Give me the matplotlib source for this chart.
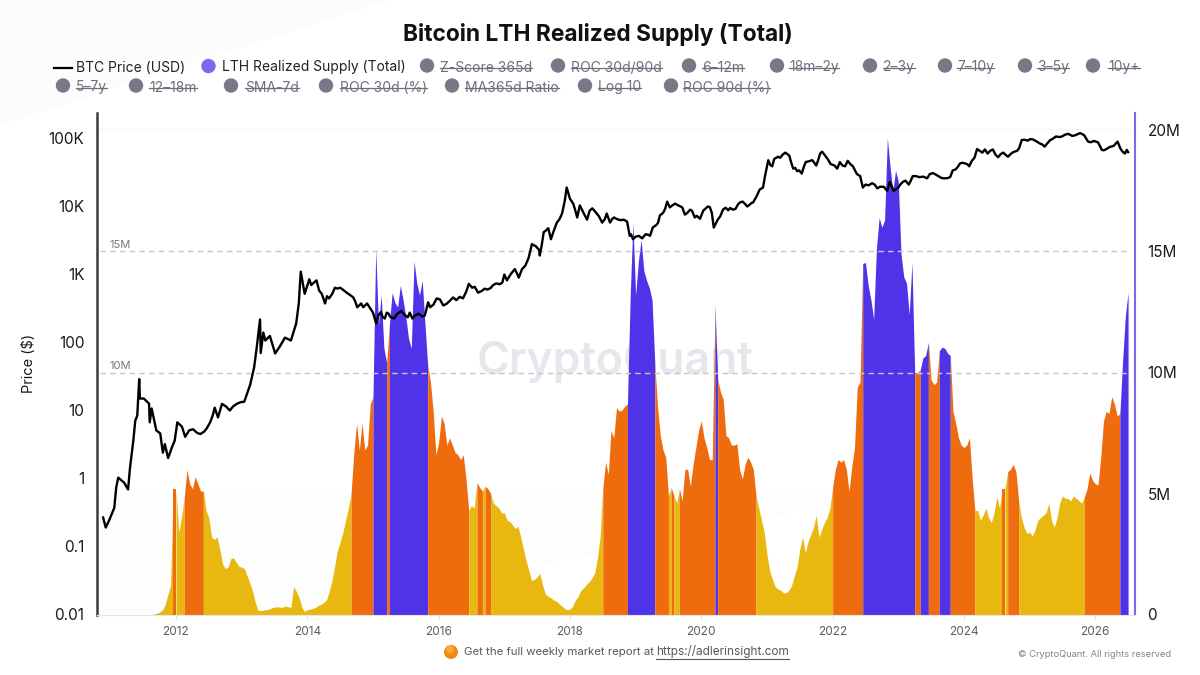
import numpy as np
import matplotlib
matplotlib.use("Agg")
import matplotlib.pyplot as plt
from matplotlib.patches import Circle, Polygon

plt.rcParams["font.family"] = ["Inter", "DejaVu Sans"]

# BTC price
price_years = [
    2010.89, 2010.93, 2010.98, 2011.06, 2011.09, 2011.12, 2011.21, 2011.27, 2011.30, 2011.35, 2011.38, 2011.41,
    2011.44, 2011.45, 2011.51, 2011.59, 2011.60, 2011.63, 2011.70, 2011.76, 2011.80, 2011.83, 2011.88, 2011.94,
    2011.98, 2012.02, 2012.09, 2012.14, 2012.20, 2012.32, 2012.43, 2012.52, 2012.59, 2012.64, 2012.70, 2012.82,
    2012.93, 2013.04, 2013.13, 2013.19, 2013.23, 2013.28, 2013.29, 2013.33, 2013.36, 2013.43, 2013.51, 2013.58,
    2013.66, 2013.75, 2013.83, 2013.87, 2013.90, 2013.96, 2014.03, 2014.10, 2014.18, 2014.27, 2014.33, 2014.42,
    2014.50, 2014.60, 2014.70, 2014.76, 2014.82, 2014.85, 2014.91, 2015.00, 2015.05, 2015.08, 2015.15, 2015.21,
    2015.26, 2015.37, 2015.49, 2015.56, 2015.64, 2015.79, 2015.84, 2015.87, 2015.97, 2016.07, 2016.17, 2016.37,
    2016.46, 2016.51, 2016.60, 2016.74, 2016.83, 2016.97, 2017.00, 2017.04, 2017.16, 2017.22, 2017.32, 2017.42,
    2017.53, 2017.54, 2017.60, 2017.67, 2017.71, 2017.80, 2017.88, 2017.92, 2017.95, 2018.00, 2018.05, 2018.11,
    2018.15, 2018.26, 2018.34, 2018.49, 2018.56, 2018.61, 2018.67, 2018.87, 2018.91, 2018.96, 2019.10, 2019.22,
    2019.26, 2019.37, 2019.42, 2019.48, 2019.52, 2019.60, 2019.71, 2019.75, 2019.83, 2019.90, 2019.98, 2020.10,
    2020.16, 2020.19, 2020.25, 2020.33, 2020.48, 2020.59, 2020.70, 2020.79, 2020.89, 2020.94, 2021.02, 2021.08,
    2021.14, 2021.20, 2021.28, 2021.34, 2021.40, 2021.46, 2021.53, 2021.59, 2021.69, 2021.75, 2021.84, 2021.93,
    2022.07, 2022.11, 2022.19, 2022.23, 2022.34, 2022.42, 2022.46, 2022.60, 2022.68, 2022.83, 2022.87, 2023.00,
    2023.07, 2023.16, 2023.22, 2023.44, 2023.48, 2023.61, 2023.68, 2023.79, 2023.83, 2023.94, 2024.05, 2024.12,
    2024.20, 2024.28, 2024.40, 2024.52, 2024.60, 2024.67, 2024.81, 2024.88, 2025.01, 2025.16, 2025.23, 2025.36,
    2025.54, 2025.65, 2025.77, 2025.89, 2026.04, 2026.10, 2026.22, 2026.34, 2026.45, 2026.50,
]
price_usd = [
    0.267, 0.19, 0.24, 0.37, 0.74, 1.03, 0.87, 0.69, 1.45, 3.6, 7.1, 8.4,
    29, 15, 15, 12.6, 6.7, 10.7, 5.1, 4.6, 2.4, 3.2, 2.0, 2.9,
    3.6, 6.7, 5.8, 4.1, 5.1, 4.7, 4.9, 6.7, 11, 7.9, 12.5, 10,
    12.6, 13.5, 24, 43, 85, 218, 70, 140, 107, 125, 69, 87,
    118, 107, 190, 375, 1100, 520, 850, 760, 580, 375, 445, 640,
    640, 540, 460, 330, 375, 330, 375, 275, 190, 250, 235, 275,
    240, 265, 250, 275, 250, 250, 390, 330, 445, 350, 410, 445,
    730, 640, 540, 600, 700, 760, 1000, 820, 1200, 900, 1350, 2800,
    2300, 1900, 4200, 4800, 3300, 5800, 7900, 12000, 19000, 13000, 11000, 6900,
    10400, 6400, 9400, 5800, 7900, 5800, 6900, 6000, 3700, 3300, 3400, 3700,
    4900, 7400, 8100, 11800, 9700, 11000, 9700, 7600, 9000, 6900, 6600, 10000,
    8100, 4900, 6400, 9000, 9000, 11500, 10000, 11500, 17800, 19000, 48000, 39000,
    52000, 52000, 62000, 56000, 36000, 33000, 30500, 45000, 48000, 40000, 64000, 49000,
    36000, 45000, 39000, 47000, 34000, 28000, 19000, 22000, 18500, 17000, 23000, 19000,
    23000, 21000, 28000, 26000, 30000, 28000, 26000, 27000, 34000, 43000, 42000, 47000,
    70000, 62000, 66000, 53000, 62000, 54000, 66000, 95000, 98000, 84000, 76000, 100000,
    114000, 109000, 120000, 90000, 88000, 68000, 75000, 90000, 60000, 63000,
]
# the smaller swings between the points above
swing_years = [
    2012.26, 2012.37, 2012.47, 2012.56, 2012.76, 2012.87, 2012.98,
    2014.06, 2014.14, 2014.22, 2014.30, 2014.38, 2014.46, 2014.55, 2014.65, 2014.73, 2014.79,
    2015.12, 2015.18, 2015.24, 2015.32, 2015.43, 2015.53, 2015.60, 2015.70, 2015.75,
    2015.92, 2016.02, 2016.12, 2016.22, 2016.27, 2016.32, 2016.42, 2016.55, 2016.66, 2016.70, 2016.79, 2016.88, 2016.93,
    2017.10, 2017.19, 2017.27, 2017.37, 2017.48, 2017.57, 2017.63, 2017.75, 2017.84,
    2018.08, 2018.20, 2018.30, 2018.38, 2018.44, 2018.53, 2018.64, 2018.72, 2018.77, 2018.82, 2018.93,
    2019.00, 2019.05, 2019.15, 2019.19, 2019.31, 2019.34, 2019.45, 2019.56, 2019.64, 2019.68, 2019.79, 2019.86, 2019.93,
    2020.03, 2020.07, 2020.13, 2020.29, 2020.37, 2020.41, 2020.44, 2020.52, 2020.56, 2020.63, 2020.67, 2020.74, 2020.76,
    2020.84, 2020.97, 2021.05, 2021.11, 2021.17, 2021.24, 2021.31, 2021.37, 2021.43, 2021.49, 2021.56, 2021.63, 2021.72,
    2021.78, 2021.81, 2021.88, 2021.97, 2022.03, 2022.15, 2022.27, 2022.31, 2022.37, 2022.50, 2022.55, 2022.64, 2022.72,
    2022.78, 2022.93, 2023.03, 2023.11, 2023.19, 2023.27, 2023.32, 2023.38, 2023.53, 2023.57, 2023.65, 2023.74, 2023.87,
    2023.90, 2023.98, 2024.08, 2024.16, 2024.24, 2024.32, 2024.36, 2024.44, 2024.48, 2024.56, 2024.63, 2024.71, 2024.75,
    2024.84, 2024.92, 2024.97, 2025.05, 2025.11, 2025.19, 2025.27, 2025.31, 2025.40, 2025.46, 2025.50, 2025.59, 2025.70,
    2025.73, 2025.83, 2025.93, 2025.98, 2026.07, 2026.13, 2026.17, 2026.28, 2026.38, 2026.41, 2026.48,
]
swing_usd = [
    5.3, 4.5, 5.5, 8.5, 11.5, 11.5, 13.2,
    700, 820, 520, 480, 520, 620, 590, 500, 400, 350,
    280, 225, 265, 225, 290, 235, 225, 265, 240,
    360, 430, 370, 460, 420, 470, 560, 660, 575, 620, 630, 740, 720,
    1020, 1050, 1200, 1750, 2600, 2700, 4400, 4300, 6500,
    8800, 8300, 8700, 8500, 7200, 6500, 6500, 6500, 6300, 6400, 3900,
    3600, 3700, 3900, 3850, 5300, 5700, 9300, 10400, 10500, 10000, 8100, 8600, 7300,
    8700, 9400, 9800, 7200, 9600, 8800, 9500, 9200, 10800, 11800, 10800, 10700, 11200,
    14000, 28000, 41000, 50000, 54000, 58000, 59000, 44000, 37000, 34000, 38000, 46000, 44000,
    48000, 60000, 57000, 42000, 40000, 40000, 42000, 39000, 30000, 21000, 20500, 21000, 19500,
    19500, 17000, 21000, 24000, 24000, 28000, 27000, 27500, 31000, 29500, 26500, 26000, 35000,
    37500, 44000, 39000, 52000, 66000, 69000, 60000, 69000, 58000, 59000, 58000, 59000, 63000,
    72000, 96000, 93000, 97000, 90000, 82000, 85000, 94000, 107000, 105000, 108000, 117000, 112000,
    116000, 112000, 88000, 92000, 78000, 67000, 70000, 78000, 72000, 65000, 68000,
]

# LTH realized supply in millions, two readings per month from 2011 on
supply_start = 2011.0
supply_per_year = 24
supply_m = [
    # 2011
    0, 0, 0, 0, 0, 0, 0, 0, 0, 0, 0, 0,
    0, 0, 0, 0, 0.02, 0.05, 0.1, 0.18, 0.4, 0.8, 1.2, 5.2,
    # 2012
    5.2, 3.4, 4.0, 4.8, 6.0, 5.4, 5.2, 5.7, 5.4, 5.1, 5.1, 4.3,
    4.0, 3.2, 3.1, 3.2, 2.7, 2.1, 1.9, 1.95, 2.3, 2.35, 2.15, 2.0,
    # 2013
    1.95, 1.9, 1.6, 1.3, 0.95, 0.5, 0.17, 0.16, 0.18, 0.2, 0.22, 0.28,
    0.3, 0.32, 0.3, 0.3, 0.35, 0.32, 0.3, 1.15, 0.95, 0.7, 0.3, 0.12,
    # 2014
    0.2, 0.22, 0.25, 0.3, 0.38, 0.42, 0.5, 0.6, 0.95, 1.4, 2.0, 2.65,
    3.0, 3.4, 3.9, 4.4, 5.0, 6.7, 7.9, 6.8, 7.9, 6.8, 7.0, 8.7,
    # 2015
    9.0, 15.1, 12.0, 13.2, 11.0, 10.4, 12.0, 13.3, 12.9, 12.7, 13.6, 13.0,
    12.3, 11.4, 11.0, 14.6, 13.7, 13.2, 13.8, 12.0, 10.3, 9.6, 8.4, 6.6,
    # 2016
    7.1, 8.2, 7.9, 7.0, 7.3, 7.0, 6.7, 6.6, 6.4, 6.6, 5.6, 4.3,
    4.5, 4.4, 5.45, 5.25, 5.1, 5.3, 5.2, 5.0, 4.6, 4.5, 4.4, 4.2,
    # 2017
    4.2, 3.9, 3.85, 3.7, 3.55, 3.65, 3.2, 2.7, 2.2, 1.8, 1.4, 1.45,
    1.55, 1.7, 1.2, 0.85, 0.75, 0.7, 0.6, 0.55, 0.45, 0.35, 0.25, 0.2,
    # 2018
    0.22, 0.35, 0.6, 0.75, 1.0, 1.1, 1.25, 1.35, 1.5, 1.7, 2.3, 3.2,
    5.2, 6.3, 5.8, 7.6, 7.3, 8.55, 8.4, 8.45, 8.6, 8.7, 13.1, 16.2,
    # 2019
    13.2, 14.6, 15.5, 14.2, 13.8, 13.5, 13.0, 10.4, 8.6, 7.4, 6.8, 6.5,
    4.9, 5.25, 4.9, 4.6, 5.2, 4.7, 6.0, 6.0, 5.3, 6.2, 6.9, 7.6,
    # 2020
    8.0, 7.3, 6.9, 6.4, 6.4, 12.8, 9.7, 9.2, 8.9, 7.4, 7.3, 7.0,
    7.0, 7.05, 6.0, 5.6, 6.2, 6.5, 6.3, 6.0, 4.9, 4.4, 3.9, 3.4,
    # 2021
    2.5, 1.8, 1.45, 1.15, 1.05, 1.0, 0.9, 0.9, 1.0, 1.2, 1.6, 1.95,
    2.7, 3.2, 2.55, 3.0, 3.3, 3.6, 4.1, 3.2, 3.5, 3.8, 4.0, 4.4,
    # 2022
    5.25, 6.0, 6.4, 6.3, 6.4, 6.0, 5.1, 6.1, 6.9, 9.4, 9.6, 14.5,
    14.55, 13.6, 13.0, 12.2, 15.1, 16.4, 16.0, 16.3, 19.7, 18.5, 17.5, 18.35,
    # 2023
    17.9, 14.9, 13.95, 13.7, 12.4, 14.55, 10.0, 10.0, 10.1, 10.6, 10.7, 11.25,
    9.7, 9.5, 9.6, 10.9, 11.05, 11.0, 10.8, 10.7, 8.4, 7.9, 7.3, 7.0,
    # 2024
    6.9, 7.0, 7.3, 5.65, 4.3, 4.3, 3.9, 4.1, 4.4, 4.0, 3.8, 4.2,
    4.85, 4.4, 5.2, 5.2, 5.9, 6.0, 6.2, 5.9, 4.7, 4.0, 3.6, 3.35,
    # 2025
    3.4, 3.25, 3.5, 3.9, 4.0, 4.1, 4.2, 4.6, 3.9, 3.6, 4.0, 4.6,
    4.9, 4.8, 4.8, 4.7, 4.9, 4.8, 4.7, 4.6, 4.85, 5.2, 5.85, 5.55,
    # 2026
    5.4, 5.35, 6.5, 8.0, 8.4, 8.3, 9.0, 8.7, 8.2, 8.3, 10.5, 12.35, 13.3,
]

# colour bands of the area: each starts at the given year and runs to the next one
band_starts = [
    2011.0, 2011.94, 2012.02, 2012.12, 2012.40, 2014.68, 2015.02, 2015.19, 2015.23, 2015.83,
    2016.45, 2016.58, 2016.68, 2016.72, 2016.81, 2018.49, 2018.87, 2019.30, 2019.48, 2019.53,
    2019.58, 2019.65, 2019.69, 2019.72, 2020.20, 2020.245, 2020.82, 2022.01, 2022.45, 2023.24,
    2023.35, 2023.47, 2023.62, 2023.80, 2024.15, 2024.60, 2024.645, 2024.66, 2024.84, 2025.85,
    2026.39,
]
band_names = [
    "low", "mid", "low", "mid", "low", "mid", "high", "mid", "high", "mid",
    "low", "mid", "low", "mid", "low", "mid", "high", "mid", "low", "mid",
    "low", "mid", "low", "mid", "high", "mid", "low", "mid", "high", "mid",
    "high", "mid", "high", "mid", "low", "mid", "low", "mid", "low", "mid",
    "high",
]
band_colors = {"low": "#e8b811", "mid": "#ee6c0e", "high": "#4f33e9"}

x_ticks = [2012, 2014, 2016, 2018, 2020, 2022, 2024, 2026]
price_ticks = [0.01, 0.1, 1, 10, 100, 1000, 10000, 100000]
price_labels = ["0.01", "0.1", "1", "10", "100", "1K", "10K", "100K"]
supply_ticks = [0, 5, 10, 15, 20]
supply_labels = ["0", "5M", "10M", "15M", "20M"]
guide_levels = [10, 15]
guide_labels = ["10M", "15M"]

row1 = [("Z-Score 365d", 427, 440), ("ROC 30d/90d", 558, 571), ("6–12m", 689, 702), ("18m–2y", 777, 789),
        ("2–3y", 870, 883), ("7–10y", 945, 957), ("3–5y", 1025, 1037), ("10y+", 1093, 1108)]
row2 = [("5–7y", 63, 76), ("12–18m", 136, 149), ("SMA-7d", 231, 245), ("ROC 30d (%)", 326, 340),
        ("MA365d Ratio", 452, 465), ("Log 10", 585, 598), ("ROC 90d (%)", 671, 683)]

W, H = 1200, 675
fig = plt.figure(figsize=(W / 100, H / 100), dpi=100, facecolor="white")

# very faint backdrop shapes
bg = fig.add_axes([0, 0, 1, 1], zorder=-2)
bg.set_xlim(0, W)
bg.set_ylim(H, 0)
bg.axis("off")
bg.add_patch(Polygon([(0, 0), (390, 0), (0, 125)], color="#fcfcfc", lw=0))
bg.add_patch(Polygon([(100, 493), (830, 493), (830, 505), (300, 615), (100, 615)], color="#fdfdfd", lw=0))
bg.plot([100, 1130], [129, 129], color="#f5f5f6", lw=1)
bg.text(615, 362, "CryptoQuant", fontsize=32, fontweight="semibold", color="#e6e7ed",
        ha="center", va="center")

# axes frame in figure pixels: x 97..1135, y 113..614.5
ax_price = fig.add_axes([97 / W, 1 - 614.5 / H, (1135 - 97) / W, (614.5 - 113) / H])
ax_supply = ax_price.twinx()
ax_price.set_zorder(ax_supply.get_zorder() + 1)
ax_price.patch.set_visible(False)
ax_supply.patch.set_visible(False)

supply = np.array(supply_m)
step = 1 / supply_per_year
supply_years = supply_start + np.arange(len(supply)) * step

# one filled run per stretch of the same colour
mids = supply_years[:-1] + step / 2
seg_band = np.searchsorted(band_starts, mids, side="right") - 1
seg_names = np.array(band_names)[seg_band]
run_start = 0
for i in range(1, len(seg_names) + 1):
    if i == len(seg_names) or seg_names[i] != seg_names[run_start]:
        ax_supply.fill_between(supply_years[run_start:i + 1], 0, supply[run_start:i + 1],
                               color=band_colors[seg_names[run_start]], linewidth=0, zorder=2)
        run_start = i

for level, label in zip(guide_levels, guide_labels):
    ax_supply.plot([2010.85, 2026.53], [level, level], color="#c6c6ce", lw=1, ls=(0, (4, 3)), zorder=3)
    ax_supply.text(2010.98, level + 0.05, label, fontsize=8, color="#77777f", ha="left", va="bottom", zorder=3)

all_years = np.array(price_years + swing_years)
all_usd = np.array(price_usd + swing_usd)
order = np.argsort(all_years)
ax_price.plot(all_years[order], all_usd[order], color="black", lw=1.7, solid_joinstyle="round", zorder=5)

ax_price.set_xlim(2010.797, 2026.605)
ax_price.set_yscale("log")
ax_price.set_ylim(0.01, 10 ** (501.5 / 68 - 2))
ax_supply.set_ylim(0, 501.5 / 121 * 5)

ax_price.set_xticks(x_ticks)
ax_price.set_xticklabels([str(y) for y in x_ticks], fontsize=8.5, color="#5b5b63")
ax_price.tick_params(axis="x", length=3, width=0.8, color="#dddddf", pad=5)
ax_price.set_yticks(price_ticks)
ax_price.set_yticklabels(price_labels, fontsize=11, color="#1a1a1a")
ax_price.minorticks_off()
ax_price.tick_params(axis="y", which="both", length=0, pad=9)
ax_price.set_ylabel("Price ($)", fontsize=10.5, color="#1a1a1a")
ax_price.yaxis.set_label_coords(-(97 - 36) / 1038, 0.5)

ax_supply.set_yticks(supply_ticks)
ax_supply.set_yticklabels(supply_labels, fontsize=11, color="#1a1a1a")
ax_supply.tick_params(axis="y", length=0, pad=9)

for a in (ax_price, ax_supply):
    a.spines["top"].set_visible(False)
ax_price.spines["left"].set_color("#3c3c3c")
ax_price.spines["left"].set_linewidth(1.8)
ax_price.spines["right"].set_visible(False)
ax_price.spines["bottom"].set_color("#e6e6e8")
ax_supply.spines["left"].set_visible(False)
ax_supply.spines["bottom"].set_visible(False)
ax_supply.spines["right"].set_color("#7b68ee")
ax_supply.spines["right"].set_linewidth(1.5)

# title, legend and footer laid out in figure pixels
top = fig.add_axes([0, 0, 1, 1], zorder=5)
top.set_xlim(0, W)
top.set_ylim(H, 0)
top.axis("off")
top.text(598, 34, "Bitcoin LTH Realized Supply (Total)", fontsize=16.4, fontweight="bold",
         color="#111111", ha="center", va="center")

top.plot([54, 72], [68, 68], color="black", lw=1.6)
top.text(76, 67.5, "BTC Price (USD)", fontsize=10, color="#222222", va="center")
top.add_patch(Circle((208.5, 66), 7.2, color="#7b68ee", lw=0))
top.text(222, 67.5, "LTH Realized Supply (Total)", fontsize=10, color="#222222", va="center")

struck = []
for rows, y in ((row1, 67), (row2, 87)):
    for name, dot_x, text_x in rows:
        top.add_patch(Circle((dot_x, y - 1.5), 7.2, color="#787887", lw=0))
        t = top.text(text_x, y + 0.5, name, fontsize=10, color="#6e6e7c", va="center")
        struck.append((t, y + 0.5))

top.add_patch(Circle((451, 652), 7, color="#f08a12", lw=0))
top.add_patch(Circle((450, 649.5), 3.8, color="#f9a83a", lw=0))
top.text(464, 652, "Get the full weekly market report at", fontsize=8.2, color="#55555d", va="center")
link = top.text(656, 652, "https://adlerinsight.com", fontsize=8.5, color="#55555d", va="center")
top.text(1171, 654.5, "© CryptoQuant. All rights reserved", fontsize=6.7, color="#85858d", ha="right", va="center")

fig.canvas.draw()
renderer = fig.canvas.get_renderer()
for t, y in struck:
    box = t.get_window_extent(renderer)
    top.plot([box.x0, box.x1], [y, y], color="#6e6e7c", lw=0.9)
box = link.get_window_extent(renderer)
top.plot([box.x0, box.x1], [658.5, 658.5], color="#55555d", lw=0.8)

fig.savefig("out.png", dpi=100)
